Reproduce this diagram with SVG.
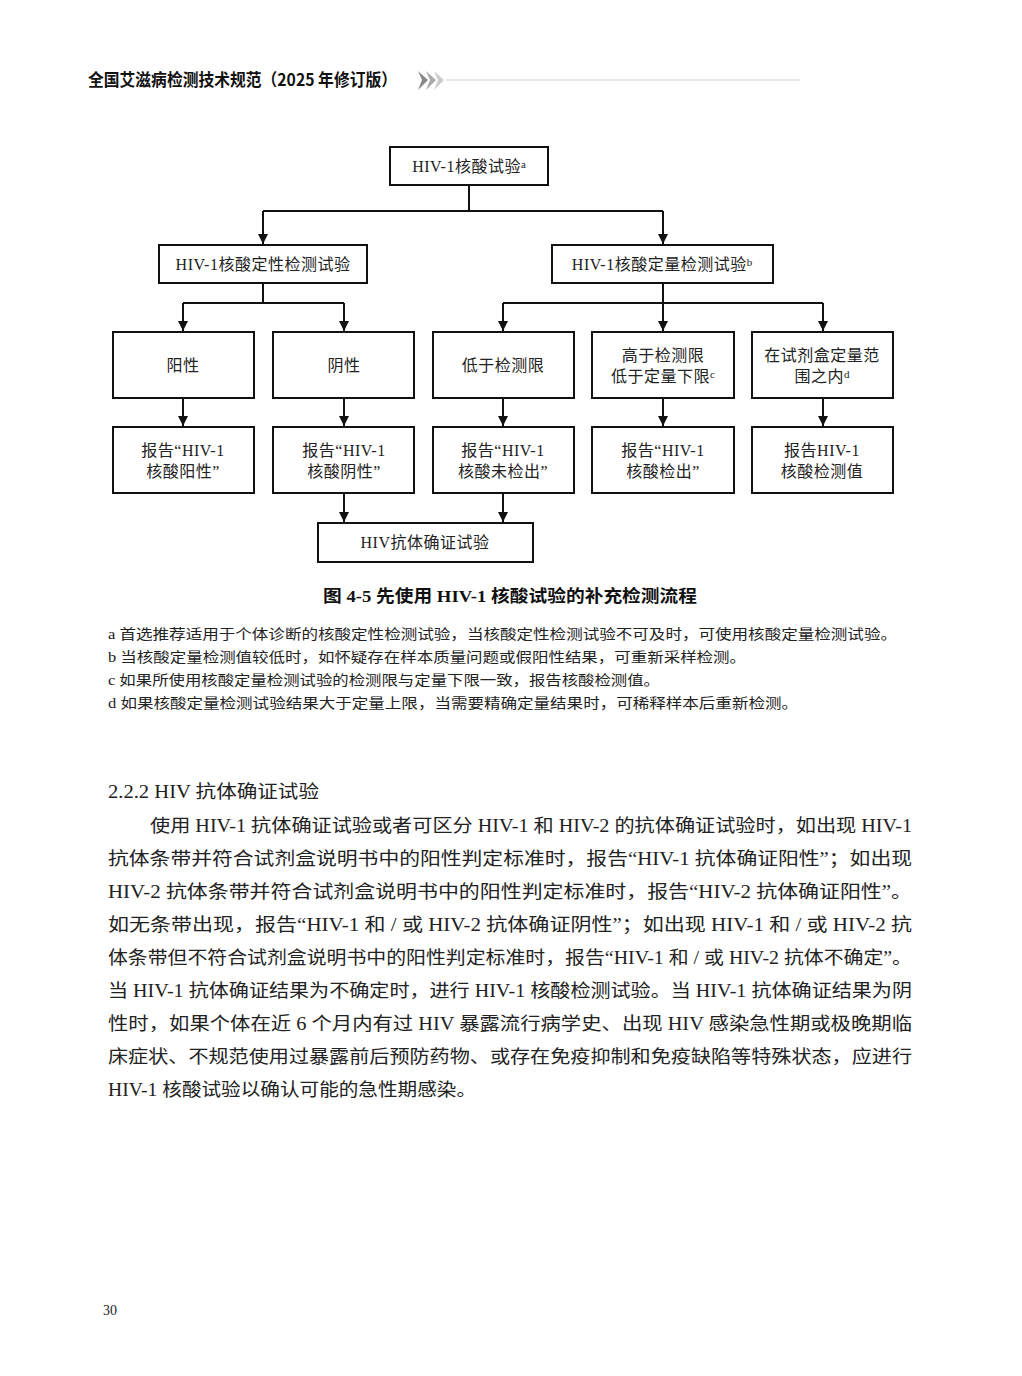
<svg xmlns="http://www.w3.org/2000/svg" width="1022" height="1376" viewBox="0 0 1022 1376">
<style>
.box{fill:#fff;stroke:#111;stroke-width:2}
.ln{fill:none;stroke:#111;stroke-width:2}
.nt{font-family:"Liberation Serif","Noto Sans CJK SC",serif;font-size:16px;fill:#222;text-anchor:middle;letter-spacing:0.5px}
.sup{font-size:11px;letter-spacing:0}
.fn{font-family:"Liberation Serif","Noto Sans CJK SC",serif;font-size:14px;fill:#222}
.p{font-family:"Liberation Serif","Noto Sans CJK SC",serif;font-size:18px;fill:#222}
.hd{font-family:"Noto Sans CJK SC","Liberation Sans",sans-serif;font-size:17px;font-weight:bold;fill:#111}
.cap{font-family:"Liberation Serif","Noto Sans CJK SC",serif;font-size:17px;font-weight:bold;fill:#111;text-anchor:middle}
</style>
<defs>
<marker id="ah" viewBox="0 0 10 10" refX="10" refY="5" markerWidth="5" markerHeight="5" orient="auto" markerUnits="strokeWidth">
<path d="M0,0 L10,5 L0,10 z" fill="#111"/>
</marker>
</defs>
<rect width="1022" height="1376" fill="#fff"/>

<g id="header">
<text class="hd" x="88" y="86" textLength="309" lengthAdjust="spacingAndGlyphs">全国艾滋病检测技术规范（2025 年修订版）</text>
<polygon points="418,71 428,80 418,90 422,80" fill="#888"/>
<polygon points="426,71 436,80 426,90 430,80" fill="#aaa"/>
<polygon points="434,71 444,80 434,90 438,80" fill="#ccc"/>
<line x1="446" y1="80" x2="800" y2="80" stroke="#e2e2e2" stroke-width="1.5"/>
</g>

<g id="connectors">
<path class="ln" d="M469,185 V211 M263,211 H663"/>
<path class="ln" d="M263,211 V244" marker-end="url(#ah)"/>
<path class="ln" d="M663,211 V244" marker-end="url(#ah)"/>
<path class="ln" d="M263,283 V303 M183,303 H344"/>
<path class="ln" d="M183,303 V331" marker-end="url(#ah)"/>
<path class="ln" d="M344,303 V331" marker-end="url(#ah)"/>
<path class="ln" d="M663,283 V303 M503,303 H823"/>
<path class="ln" d="M503,303 V331" marker-end="url(#ah)"/>
<path class="ln" d="M663,303 V331" marker-end="url(#ah)"/>
<path class="ln" d="M823,303 V331" marker-end="url(#ah)"/>
<path class="ln" d="M183,398 V426" marker-end="url(#ah)"/>
<path class="ln" d="M344,398 V426" marker-end="url(#ah)"/>
<path class="ln" d="M503,398 V426" marker-end="url(#ah)"/>
<path class="ln" d="M663,398 V426" marker-end="url(#ah)"/>
<path class="ln" d="M823,398 V426" marker-end="url(#ah)"/>
<path class="ln" d="M344,493 V522" marker-end="url(#ah)"/>
<path class="ln" d="M503,493 V522" marker-end="url(#ah)"/>
</g>

<g id="n_top"><rect class="box" x="390" y="147" width="158" height="38"/>
<text class="nt" x="469" y="172">HIV-1核酸试验<tspan class="sup" dy="-4">a</tspan></text></g>
<g id="n_qual"><rect class="box" x="159" y="245" width="208" height="38"/>
<text class="nt" x="263" y="270">HIV-1核酸定性检测试验</text></g>
<g id="n_quant"><rect class="box" x="552" y="245" width="221" height="38"/>
<text class="nt" x="662" y="270">HIV-1核酸定量检测试验<tspan class="sup" dy="-4">b</tspan></text></g>

<g id="n_pos"><rect class="box" x="113" y="332" width="141" height="66"/>
<text class="nt" x="183" y="371" letter-spacing="2">阳性</text></g>
<g id="n_neg"><rect class="box" x="273" y="332" width="141" height="66"/>
<text class="nt" x="344" y="371" letter-spacing="2">阴性</text></g>
<g id="n_below"><rect class="box" x="433" y="332" width="141" height="66"/>
<text class="nt" x="503" y="371">低于检测限</text></g>
<g id="n_mid"><rect class="box" x="592" y="332" width="142" height="66"/>
<text class="nt" x="663" y="361">高于检测限</text>
<text class="nt" x="663" y="382">低于定量下限<tspan class="sup" dy="-4">c</tspan></text></g>
<g id="n_in"><rect class="box" x="752" y="332" width="141" height="66"/>
<text class="nt" x="822" y="361">在试剂盒定量范</text>
<text class="nt" x="822" y="382">围之内<tspan class="sup" dy="-4">d</tspan></text></g>

<g id="r_pos"><rect class="box" x="113" y="427" width="141" height="66"/>
<text class="nt" x="183" y="456">报告“HIV-1</text>
<text class="nt" x="183" y="477">核酸阳性”</text></g>
<g id="r_neg"><rect class="box" x="273" y="427" width="141" height="66"/>
<text class="nt" x="344" y="456">报告“HIV-1</text>
<text class="nt" x="344" y="477">核酸阴性”</text></g>
<g id="r_below"><rect class="box" x="433" y="427" width="141" height="66"/>
<text class="nt" x="503" y="456">报告“HIV-1</text>
<text class="nt" x="503" y="477">核酸未检出”</text></g>
<g id="r_mid"><rect class="box" x="592" y="427" width="142" height="66"/>
<text class="nt" x="663" y="456">报告“HIV-1</text>
<text class="nt" x="663" y="477">核酸检出”</text></g>
<g id="r_in"><rect class="box" x="752" y="427" width="141" height="66"/>
<text class="nt" x="822" y="456">报告HIV-1</text>
<text class="nt" x="822" y="477">核酸检测值</text></g>

<g id="n_ab"><rect class="box" x="318" y="523" width="215" height="39"/>
<text class="nt" x="425" y="548">HIV抗体确证试验</text></g>

<text class="cap" x="510" y="602" textLength="374" lengthAdjust="spacingAndGlyphs">图 4-5 先使用 HIV-1 核酸试验的补充检测流程</text>

<g id="footnotes">
<text class="fn" x="108" y="639" textLength="789" lengthAdjust="spacingAndGlyphs">a 首选推荐适用于个体诊断的核酸定性检测试验，当核酸定性检测试验不可及时，可使用核酸定量检测试验。</text>
<text class="fn" x="108" y="662" textLength="638" lengthAdjust="spacingAndGlyphs">b 当核酸定量检测值较低时，如怀疑存在样本质量问题或假阳性结果，可重新采样检测。</text>
<text class="fn" x="108" y="685" textLength="552" lengthAdjust="spacingAndGlyphs">c 如果所使用核酸定量检测试验的检测限与定量下限一致，报告核酸检测值。</text>
<text class="fn" x="108" y="708" textLength="690" lengthAdjust="spacingAndGlyphs">d 如果核酸定量检测试验结果大于定量上限，当需要精确定量结果时，可稀释样本后重新检测。</text>
</g>

<g id="body">
<text class="p" x="108" y="798" textLength="211" lengthAdjust="spacingAndGlyphs">2.2.2 HIV 抗体确证试验</text>
<text class="p" x="150" y="832" textLength="762" lengthAdjust="spacingAndGlyphs">使用 HIV-1 抗体确证试验或者可区分 HIV-1 和 HIV-2 的抗体确证试验时，如出现 HIV-1</text>
<text class="p" x="108" y="865" textLength="804" lengthAdjust="spacingAndGlyphs">抗体条带并符合试剂盒说明书中的阳性判定标准时，报告“HIV-1 抗体确证阳性”；如出现</text>
<text class="p" x="108" y="898" textLength="804" lengthAdjust="spacingAndGlyphs">HIV-2 抗体条带并符合试剂盒说明书中的阳性判定标准时，报告“HIV-2 抗体确证阳性”。</text>
<text class="p" x="108" y="931" textLength="804" lengthAdjust="spacingAndGlyphs">如无条带出现，报告“HIV-1 和 / 或 HIV-2 抗体确证阴性”；如出现 HIV-1 和 / 或 HIV-2 抗</text>
<text class="p" x="108" y="964" textLength="804" lengthAdjust="spacingAndGlyphs">体条带但不符合试剂盒说明书中的阳性判定标准时，报告“HIV-1 和 / 或 HIV-2 抗体不确定”。</text>
<text class="p" x="108" y="997" textLength="804" lengthAdjust="spacingAndGlyphs">当 HIV-1 抗体确证结果为不确定时，进行 HIV-1 核酸检测试验。当 HIV-1 抗体确证结果为阴</text>
<text class="p" x="108" y="1030" textLength="804" lengthAdjust="spacingAndGlyphs">性时，如果个体在近 6 个月内有过 HIV 暴露流行病学史、出现 HIV 感染急性期或极晚期临</text>
<text class="p" x="108" y="1063" textLength="804" lengthAdjust="spacingAndGlyphs">床症状、不规范使用过暴露前后预防药物、或存在免疫抑制和免疫缺陷等特殊状态，应进行</text>
<text class="p" x="108" y="1096" textLength="368" lengthAdjust="spacingAndGlyphs">HIV-1 核酸试验以确认可能的急性期感染。</text>
</g>

<text class="fn" x="103" y="1315">30</text>
</svg>
